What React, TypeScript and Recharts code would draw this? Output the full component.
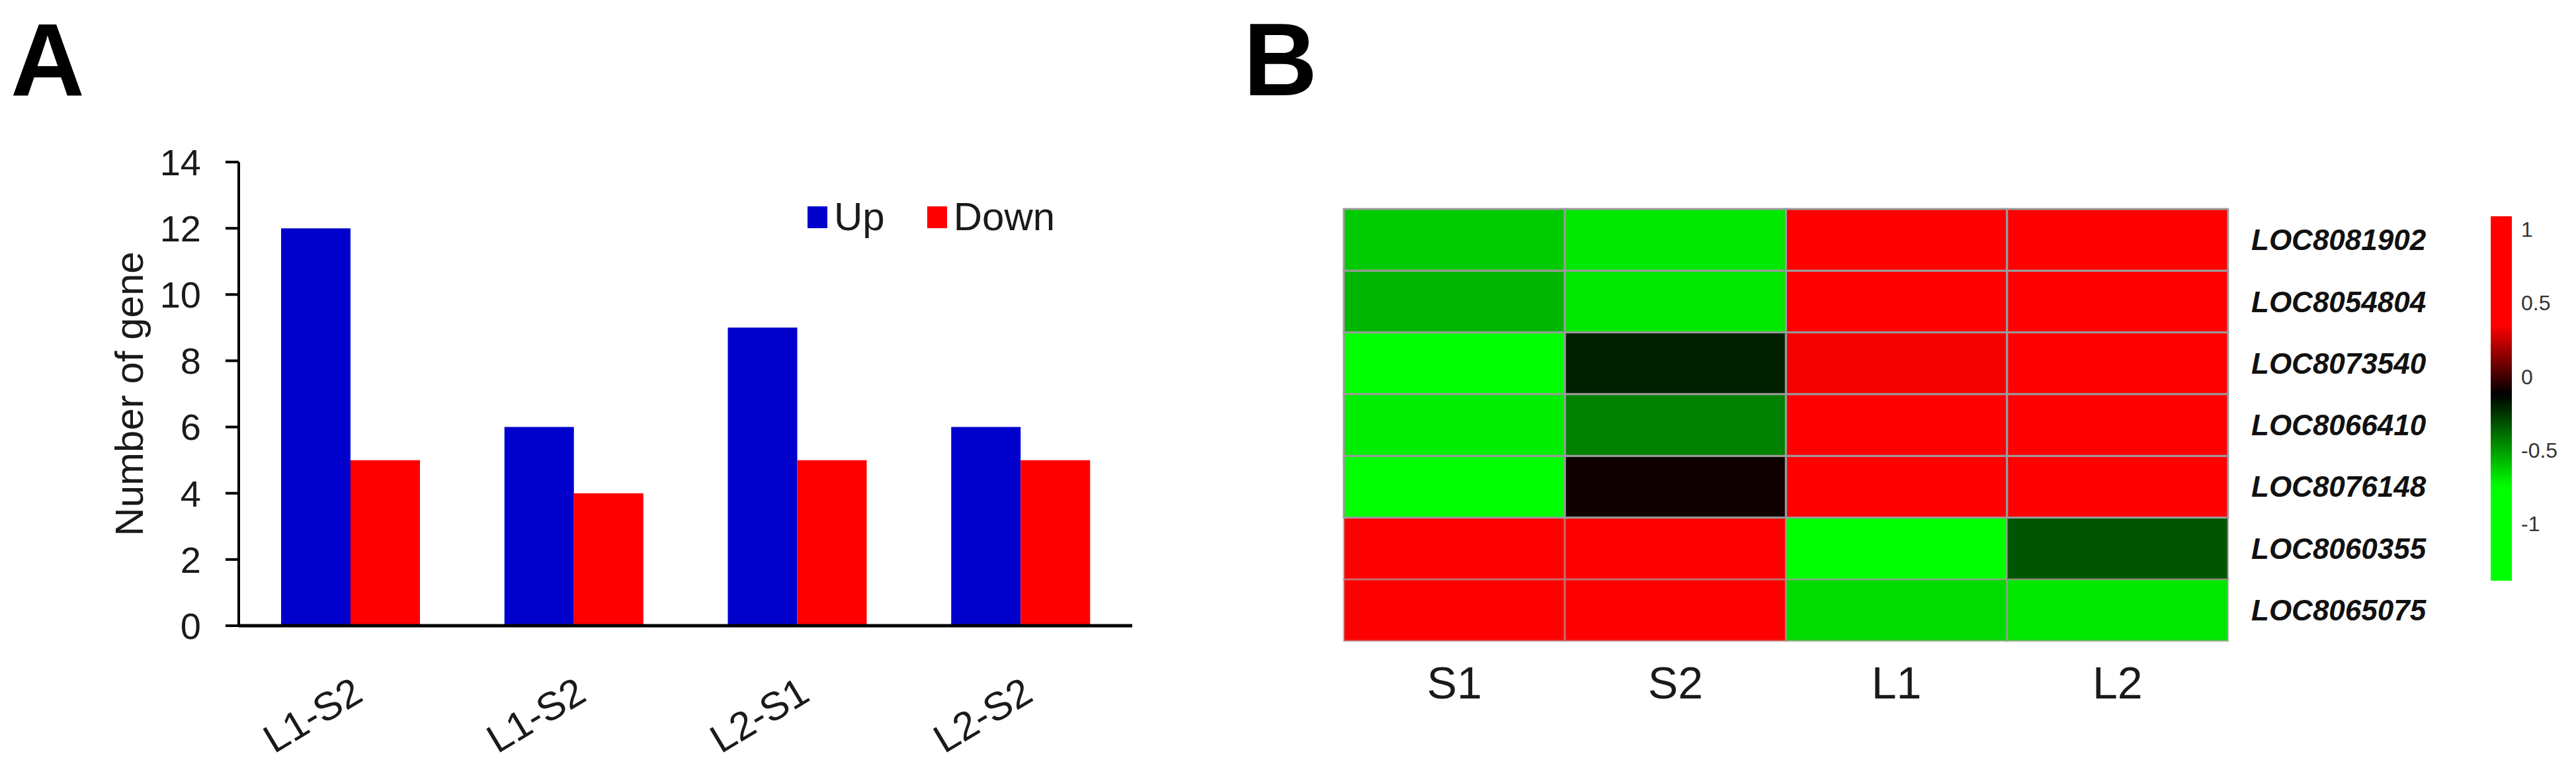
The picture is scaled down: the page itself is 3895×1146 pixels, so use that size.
import React from 'react';
import { BarChart, Bar, XAxis, YAxis, Legend, Cell } from 'recharts';

// ---------- Panel A data ----------
const comparisons = ['L1-S2', 'L1-S2', 'L2-S1', 'L2-S2'];
const upCounts = [12, 6, 9, 6];
const downCounts = [5, 4, 5, 5];
const countTicks = [0, 2, 4, 6, 8, 10, 12, 14];
const seriesNames = ['Up', 'Down'];

// ---------- Panel B data ----------
const samples = ['S1', 'S2', 'L1', 'L2'];
const genes = ['LOC8081902', 'LOC8054804', 'LOC8073540', 'LOC8066410', 'LOC8076148', 'LOC8060355', 'LOC8065075'];
// relative expression (row-scaled), rows follow genes, columns follow samples
const expression = [
  [-0.62, -0.69, 1.0, 0.98],
  [-0.57, -0.69, 1.0, 0.97],
  [-1.2, -0.2, 0.33, 1.0],
  [-0.71, -0.44, 1.0, 1.0],
  [-1.2, -0.09, 1.0, 1.0],
  [1.0, 1.0, -1.2, -0.33],
  [1.0, 1.0, -0.66, -0.69],
];
const scaleTicks = [-1, -0.5, 0, 0.5, 1];
const scaleRange = [-1.39, 1.09];

const FONT = '"Liberation Sans", Arial, Helvetica, sans-serif';
const BLUE = '#0000CC';
const RED = '#FF0000';

const CENTER = -0.12;
const RED_FULL = 0.35;
const GREEN_FULL = -0.75;
function colorFor(v: number): string {
  if (v >= CENTER) {
    const t = Math.max(0, Math.min(1, (v - CENTER) / (RED_FULL - CENTER)));
    return `rgb(${Math.round(255 * t)},0,0)`;
  }
  const t = Math.max(0, Math.min(1, (CENTER - v) / (CENTER - GREEN_FULL)));
  return `rgb(0,${Math.round(255 * t)},0)`;
}

const barData = comparisons.map((c, i) => ({ name: c, Up: upCounts[i], Down: downCounts[i] }));

const heatData = samples.map((s) => {
  const row: Record<string, any> = { name: s };
  genes.forEach((g) => {
    row[g] = 1;
  });
  return row;
});

const geneTicks = genes.map((_, i) => genes.length - 0.5 - i);

const scaleData = [{ name: 'scale', range: scaleRange }];

const gradientStops = Array.from({ length: 61 }, (_, k) => {
  const f = k / 60;
  const v = scaleRange[1] - (scaleRange[1] - scaleRange[0]) * f;
  return <stop key={k} offset={`${(f * 100).toFixed(2)}%`} stopColor={colorFor(v)} />;
});

const LegendContent = (props: any) => {
  const payload = [...(props.payload || [])].sort(
    (a: any, b: any) => seriesNames.indexOf(a.value) - seriesNames.indexOf(b.value)
  );
  return (
    <div style={{ display: 'flex', alignItems: 'center', fontFamily: FONT }}>
      {payload.map((p: any, i: number) => (
        <div key={i} style={{ display: 'flex', alignItems: 'center', marginRight: i === 0 ? 64 : 0 }}>
          <div style={{ width: 30, height: 33, background: p.color, marginRight: 10 }} />
          <span style={{ fontSize: 60, lineHeight: '60px', color: '#1a1a1a' }}>{p.value}</span>
        </div>
      ))}
    </div>
  );
};

export default function App() {
  return (
    <div
      style={{
        position: 'absolute',
        left: 0,
        top: 0,
        width: 3895,
        height: 1146,
        background: '#fff',
        fontFamily: FONT,
        overflow: 'hidden',
      }}
    >
      {/* Panel A */}
      <div style={{ position: 'absolute', left: 0, top: 0 }}>
        <BarChart
          width={1800}
          height={1146}
          data={barData}
          margin={{ top: 245, right: 88, bottom: 5, left: 161 }}
          barCategoryGap={64}
          barGap={0}
        >
          <XAxis
            dataKey="name"
            axisLine={{ stroke: '#000', strokeWidth: 5 }}
            tickLine={false}
            tickSize={0}
            tickMargin={75}
            height={195}
            angle={-31}
            textAnchor="end"
            interval={0}
            tick={{ fontSize: 60, fill: '#1a1a1a' }}
          />
          <YAxis
            domain={[0, 14]}
            ticks={countTicks}
            interval={0}
            width={200}
            axisLine={{ stroke: '#000', strokeWidth: 4 }}
            tickLine={{ stroke: '#000', strokeWidth: 4 }}
            tickSize={20}
            tickMargin={37}
            tick={{ fontSize: 56, fill: '#1a1a1a' }}
            label={{
              value: 'Number of gene',
              angle: -90,
              position: 'insideLeft',
              offset: 34,
              fontSize: 60,
              fill: '#1a1a1a',
              style: { textAnchor: 'middle', fontSize: 60, fill: '#1a1a1a' },
            }}
          />
          <Legend
            layout="horizontal"
            verticalAlign="middle"
            align="center"
            content={<LegendContent />}
            wrapperStyle={{ top: 298, left: 1221, width: 500, height: 60 }}
          />
          <Bar dataKey="Up" name="Up" fill={BLUE} isAnimationActive={false} />
          <Bar dataKey="Down" name="Down" fill={RED} isAnimationActive={false} />
        </BarChart>
      </div>

      {/* Panel B heatmap */}
      <div style={{ position: 'absolute', left: 1950, top: 0 }}>
        <BarChart
          width={1800}
          height={1146}
          data={heatData}
          margin={{ top: 316, right: 0, bottom: 57, left: 82 }}
          barCategoryGap={0}
          barGap={0}
        >
          <XAxis
            dataKey="name"
            axisLine={false}
            tickLine={false}
            tickSize={0}
            tickMargin={39}
            height={120}
            interval={0}
            tick={{ fontSize: 68, fill: '#1a1a1a' }}
          />
          <YAxis
            orientation="right"
            type="number"
            domain={[0, genes.length]}
            ticks={geneTicks}
            interval={0}
            width={381}
            axisLine={false}
            tickLine={false}
            tickSize={0}
            tickMargin={35}
            tickFormatter={(v: number) => genes[Math.round(genes.length - 0.5 - v)]}
            tick={{ fontSize: 44, fontWeight: 'bold', fontStyle: 'italic', fill: '#111' }}
          />
          {[...genes].reverse().map((g) => {
            const gi = genes.indexOf(g);
            const light = gi >= 5;
            return (
              <Bar key={g} dataKey={g} stackId="heat" isAnimationActive={false}>
                {samples.map((s, ci) => (
                  <Cell
                    key={s}
                    fill={colorFor(expression[gi][ci])}
                    stroke={light ? 'rgba(170,150,150,0.55)' : '#9a9a9a'}
                    strokeWidth={3}
                  />
                ))}
              </Bar>
            );
          })}
        </BarChart>
      </div>

      {/* Panel B colour scale */}
      <div style={{ position: 'absolute', left: 3750, top: 0 }}>
        <BarChart
          width={145}
          height={1146}
          data={scaleData}
          margin={{ top: 327, right: 0, bottom: 268, left: 16 }}
          barCategoryGap={0}
        >
          <defs>
            <linearGradient id="cbGrad" x1="0" y1="0" x2="0" y2="1">
              {gradientStops}
            </linearGradient>
          </defs>
          <XAxis dataKey="name" hide />
          <YAxis
            orientation="right"
            type="number"
            domain={scaleRange}
            ticks={scaleTicks}
            interval={0}
            width={97}
            axisLine={false}
            tickLine={false}
            tickSize={0}
            tickMargin={14}
            allowDataOverflow
            tick={{ fontSize: 32, fill: '#333' }}
          />
          <Bar dataKey="range" fill="url(#cbGrad)" isAnimationActive={false} />
        </BarChart>
      </div>

      {/* Panel letters */}
      <svg
        width={3895}
        height={1146}
        style={{ position: 'absolute', left: 0, top: 0, pointerEvents: 'none' }}
      >
        <text x={16} y={144} fontSize={155} fontWeight="bold" fontFamily={FONT} fill="#000">
          A
        </text>
        <text x={1880} y={144} fontSize={155} fontWeight="bold" fontFamily={FONT} fill="#000">
          B
        </text>
      </svg>
    </div>
  );
}
